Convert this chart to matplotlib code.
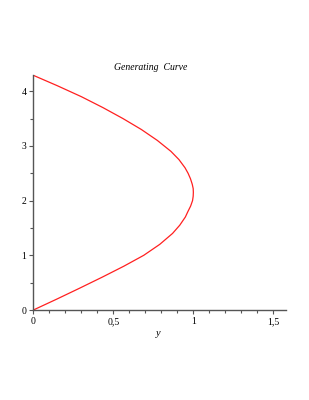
import numpy as np
import matplotlib
matplotlib.use("Agg")
from matplotlib import pyplot as plt
from matplotlib.ticker import MultipleLocator

# points (horizontal = y, vertical = height)
heights = [0, 0.2, 0.4, 0.6, 0.8, 1.0, 1.2, 1.4, 1.55, 1.7, 1.8, 1.9, 2.0,
           2.08, 2.15, 2.22, 2.3, 2.4, 2.5, 2.6, 2.75, 2.9, 3.1, 3.3, 3.5,
           3.7, 3.9, 4.1, 4.29]
yvals = [0, 0.147, 0.29, 0.43, 0.565, 0.69, 0.79, 0.87, 0.915, 0.95, 0.966,
         0.983, 0.995, 0.999, 1.0, 0.999, 0.993, 0.982, 0.967, 0.948, 0.91,
         0.86, 0.775, 0.675, 0.56, 0.435, 0.3, 0.15, 0]

xticks = [0, 0.5, 1, 1.5]
xticklabels = ['0', '0,5', '1', '1,5']
yticks = [0, 1, 2, 3, 4]

fig = plt.figure(figsize=(3.09, 4.0), dpi=100)
ax = fig.add_axes([0.108, 0.225, 0.818, 0.588])
ax.plot(yvals, heights, color='#ff2020', lw=0.9)

ax.set_xlim(0, 1.58)
ax.set_ylim(0, 4.3)
for s in ['top', 'right']:
    ax.spines[s].set_visible(False)
for s in ['left', 'bottom']:
    ax.spines[s].set_color('#555555')
    ax.spines[s].set_linewidth(1.0)

ax.set_xticks(xticks)
ax.set_xticklabels(xticklabels)
ax.set_yticks(yticks)
ax.xaxis.set_minor_locator(MultipleLocator(0.1))
ax.yaxis.set_minor_locator(MultipleLocator(0.5))
ax.tick_params(which='both', direction='out', color='#555555', width=0.8,
               labelsize=7, pad=2)
ax.tick_params(which='major', length=3)
ax.tick_params(which='minor', length=2)
for lab in ax.get_xticklabels() + ax.get_yticklabels():
    lab.set_family('Liberation Serif')

fig.text(151 / 309, 1 - 68 / 400, 'Generating  Curve', ha='center', va='center',
         family='Liberation Serif', style='italic', fontsize=7)
fig.text(158 / 309, 1 - 333 / 400, 'y', ha='center', va='center',
         family='Liberation Serif', style='italic', fontsize=7.5)

fig.savefig('out.png', dpi=100)
